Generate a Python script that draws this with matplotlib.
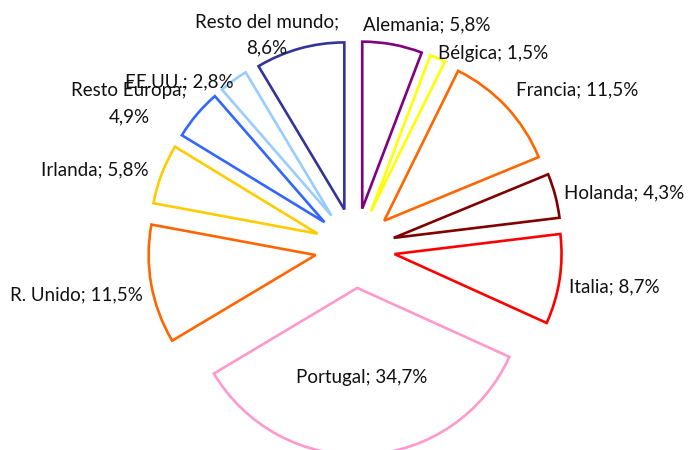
import matplotlib
matplotlib.use("Agg")
import matplotlib.pyplot as plt

categories = ["Alemania", "Bélgica", "Francia", "Holanda", "Italia", "Portugal",
              "R. Unido", "Irlanda", "Resto Europa", "EE.UU.", "Resto del mundo"]
values = [5.8, 1.5, 11.5, 4.3, 8.7, 34.7, 11.5, 5.8, 4.9, 2.8, 8.6]
colors = ["#800080", "#FFFF00", "#FF6600", "#800000", "#FF0000", "#FF99CC",
          "#FF6600", "#FFCC00", "#3366FF", "#99CCFF", "#333399"]

W, H = 691, 450
fig = plt.figure(figsize=(W / 100, H / 100), dpi=100)
ax = fig.add_axes([0, 0, 1, 1])

R = 167
cx, cy = 355, 248
wedges, _ = ax.pie(values, center=(cx, H - cy), radius=R, startangle=90,
                   counterclock=False, explode=[40] * len(values),
                   colors=["none"] * len(values),
                   wedgeprops=dict(fill=False, linewidth=1.9))
for w, c in zip(wedges, colors):
    w.set_edgecolor(c)
    w.set_joinstyle("miter")

ax.set_xlim(0, W)
ax.set_ylim(0, H)
ax.set_aspect("auto")
ax.axis("off")

def lab(name, v, multiline=False):
    s = f"{v:.1f}".replace(".", ",")
    return f"{name};\n{s}%" if multiline else f"{name}; {s}%"

# (x, y, ha) in pixel coordinates from top-left
label_pos = {
    "Alemania": (363, 25, "left"),
    "Bélgica": (438, 53, "left"),
    "Francia": (516, 90, "left"),
    "Holanda": (564, 193, "left"),
    "Italia": (569, 287, "left"),
    "Portugal": (362, 377, "center"),
    "R. Unido": (10, 295, "left"),
    "Irlanda": (41, 170, "left"),
    "Resto Europa": (129, 104, "center"),
    "EE.UU.": (125, 82, "left"),
    "Resto del mundo": (267, 35, "center"),
}
multi = {"Resto Europa", "Resto del mundo"}

for name, v in zip(categories, values):
    x, y, ha = label_pos[name]
    ax.text(x, H - y, lab(name, v, name in multi), ha=ha, va="center",
            fontsize=13.5, family="Lato", color="#111111", linespacing=1.65,
            multialignment="center")

fig.savefig("out.png", dpi=100)
